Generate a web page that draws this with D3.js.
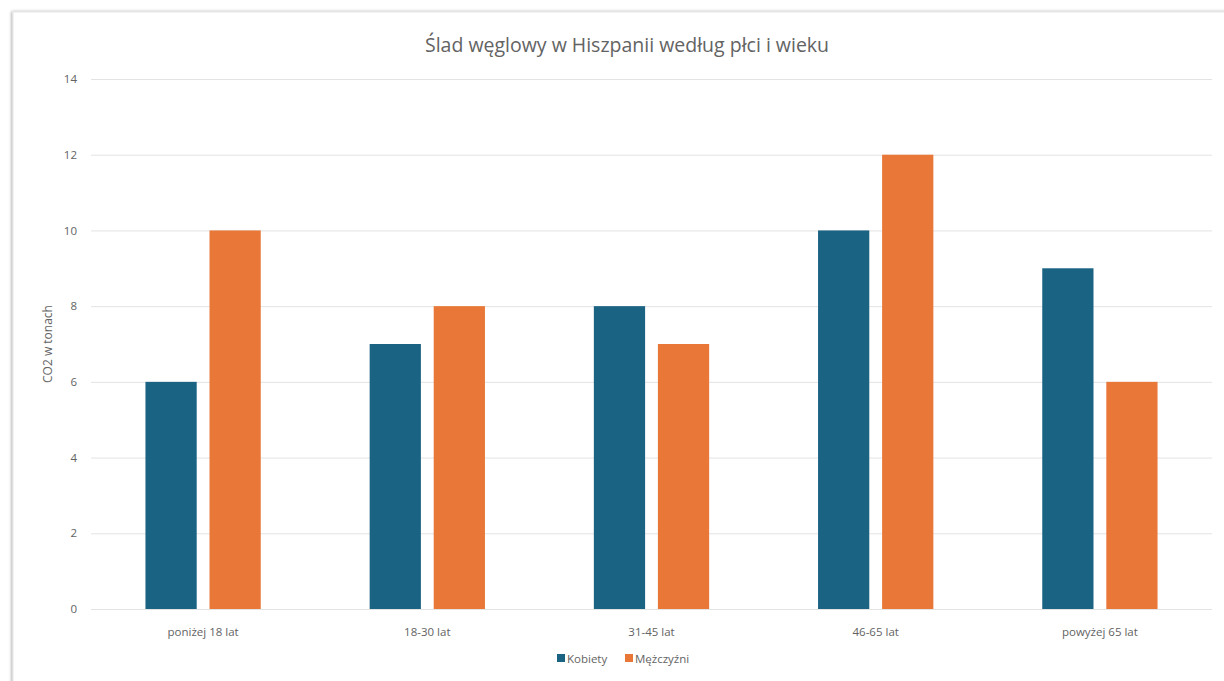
<!DOCTYPE html>
<html>
<head>
<meta charset="utf-8">
<script src="https://cdn.jsdelivr.net/npm/d3@7"></script>
<style>
  html, body { margin: 0; padding: 0; background: #fff; }
  svg { display: block; font-family: "Open Sans", sans-serif; }
</style>
</head>
<body>
<svg id="chart" width="1224" height="681"></svg>
<script>
// Carbon footprint by sex and age group
const categories = ["poniżej 18 lat", "18-30 lat", "31-45 lat", "46-65 lat", "powyżej 65 lat"];
const seriesNames = ["Kobiety", "Mężczyźni"];
const kobiety = [6, 7, 8, 10, 9];
const mezczyzni = [10, 8, 7, 12, 6];
const yTicks = [0, 2, 4, 6, 8, 10, 12, 14];
const colors = ["#1b6383", "#e97838"];

const FONT = "'Open Sans', sans-serif";
const TEXT = "#636363";
const svg = d3.select("#chart");
const W = 1224, H = 681;

// card frame with a soft shadow
const defs = svg.append("defs");
const f = defs.append("filter").attr("id", "shadow").attr("x", "-5%").attr("y", "-5%").attr("width", "110%").attr("height", "110%");
f.append("feDropShadow").attr("dx", -1).attr("dy", 0).attr("stdDeviation", 1.5).attr("flood-color", "#000").attr("flood-opacity", 0.35);
svg.append("rect").attr("x", 13).attr("y", 12).attr("width", W + 20).attr("height", H + 20)
  .attr("fill", "#fff").attr("stroke", "#e6e6e6").attr("stroke-width", 1).attr("filter", "url(#shadow)");

const margin = { left: 91, right: 12, top: 79, bottom: 72 };
const x0 = d3.scaleBand().domain(categories).range([margin.left, W - margin.right]).paddingInner(0).paddingOuter(0);
const y = d3.scaleLinear().domain([0, 14]).range([H - margin.bottom, margin.top]);
const x1 = d3.scaleBand().domain(seriesNames).range([0, x0.bandwidth()]).paddingInner(0.2).paddingOuter(0.85);

// gridlines
svg.append("g").selectAll("line").data(yTicks).join("line")
  .attr("x1", margin.left).attr("x2", W - margin.right)
  .attr("y1", d => y(d) + 0.5).attr("y2", d => y(d) + 0.5)
  .attr("stroke", "#e3e3e3").attr("stroke-width", 1);

// y tick labels
const yAxis = svg.append("g").attr("transform", `translate(${margin.left - 14},0)`)
  .call(d3.axisLeft(y).tickValues(yTicks).tickSize(0).tickPadding(0));
yAxis.select(".domain").remove();
yAxis.selectAll("text").attr("fill", TEXT).attr("font-size", 11.5).attr("font-family", FONT);

// bars
const data = categories.map((c, i) => ({ cat: c, vals: [kobiety[i], mezczyzni[i]] }));
const groups = svg.append("g").selectAll("g").data(data).join("g")
  .attr("transform", d => `translate(${x0(d.cat)},0)`);
groups.selectAll("rect").data(d => d.vals.map((v, j) => ({ key: seriesNames[j], v, j })))
  .join("rect")
  .attr("x", d => x1(d.key)).attr("width", x1.bandwidth())
  .attr("y", d => y(d.v)).attr("height", d => y(0) - y(d.v))
  .attr("fill", d => colors[d.j]);

// x labels
const xAxis = svg.append("g").attr("transform", `translate(0,${y(0) + 19})`)
  .call(d3.axisBottom(x0).tickSize(0).tickPadding(0));
xAxis.select(".domain").remove();
xAxis.selectAll("text").attr("fill", TEXT).attr("font-size", 11.5).attr("font-family", FONT);

// title
svg.append("text").attr("x", 627).attr("y", 52).attr("text-anchor", "middle")
  .attr("fill", TEXT).attr("font-size", 19.5).attr("font-family", FONT)
  .text("Ślad węglowy w Hiszpanii według płci i wieku");

// y axis title
svg.append("text").attr("transform", `translate(52,${(y(0) + y(14)) / 2}) rotate(-90)`)
  .attr("text-anchor", "middle").attr("fill", TEXT).attr("font-size", 12)
  .attr("font-family", FONT)
  .text("CO2 w tonach");

// legend
const legend = svg.append("g").attr("transform", "translate(557,659)");
const legX = [0, 68];
seriesNames.forEach((name, i) => {
  const g = legend.append("g").attr("transform", `translate(${legX[i]},0)`);
  g.append("rect").attr("x", 0).attr("y", -5).attr("width", 8).attr("height", 8).attr("fill", colors[i]);
  g.append("text").attr("x", 10).attr("y", 0).attr("dy", "0.35em").attr("fill", TEXT)
    .attr("font-size", 11.5).attr("font-family", FONT).text(name);
});
</script>
</body>
</html>
